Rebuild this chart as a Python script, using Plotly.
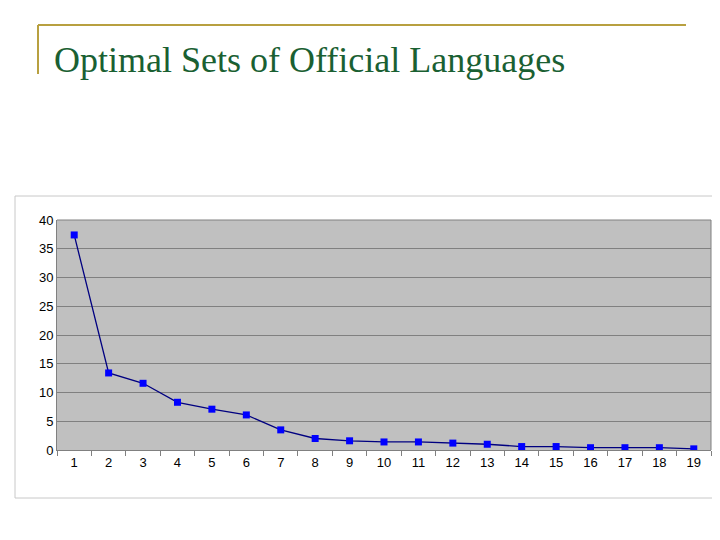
import plotly.graph_objects as go

categories = [str(i) for i in range(1, 20)]
values = [37.4, 13.4, 11.6, 8.3, 7.1, 6.1, 3.5, 2.0, 1.6, 1.4, 1.4, 1.2, 1.0, 0.6, 0.6, 0.4, 0.4, 0.4, 0.2]
title_text = "Optimal Sets of Official Languages"

L, R, T, B = 49, 703, 212, 442
W, H = R - L, B - T
def px(x): return (x - L) / W
def py(y): return (B - y) / H

fig = go.Figure(go.Scatter(
    x=categories, y=values, mode="lines+markers",
    line=dict(color="#000080", width=1.3),
    marker=dict(symbol="square", size=7, color="#0000ff"),
))
fig.update_layout(
    width=720, height=540, showlegend=False,
    paper_bgcolor="white", plot_bgcolor="#c0c0c0",
    margin=dict(l=L, r=720 - R, t=T, b=540 - B),
    font=dict(family="Liberation Sans, Arial", size=13, color="black"),
    xaxis=dict(type="category", range=[-0.5, 18.5], tickson="boundaries",
               ticks="outside", ticklen=5, tickcolor="#808080",
               showgrid=False, showline=True, linecolor="#808080", linewidth=1,
               tickfont=dict(size=13)),
    yaxis=dict(range=[0, 40], dtick=5, showgrid=True, gridcolor="#808080", gridwidth=1,
               ticks="", showline=True, linecolor="#808080", zeroline=False,
               tickfont=dict(size=13)),
    shapes=[
        dict(type="rect", xref="paper", yref="paper", x0=px(7), x1=px(714), y0=py(490), y1=py(188),
             line=dict(color="#c8c8c8", width=1), layer="below"),
        dict(type="line", xref="paper", yref="paper", x0=px(30), x1=px(678), y0=py(17), y1=py(17),
             line=dict(color="#b8a040", width=2)),
        dict(type="line", xref="paper", yref="paper", x0=px(30), x1=px(30), y0=py(17), y1=py(66),
             line=dict(color="#b8a040", width=2)),
        dict(type="line", xref="paper", yref="paper", x0=0, x1=1, y0=1, y1=1,
             line=dict(color="#808080", width=1)),
        dict(type="line", xref="paper", yref="paper", x0=1, x1=1, y0=0, y1=1,
             line=dict(color="#808080", width=1)),
    ],
    annotations=[dict(text=title_text, xref="paper", yref="paper", x=px(44), y=py(52),
                      xanchor="left", yanchor="middle", showarrow=False,
                      font=dict(family="Liberation Serif, serif", size=36, color="#1a6032"))],
)
fig.write_html("out.html")
